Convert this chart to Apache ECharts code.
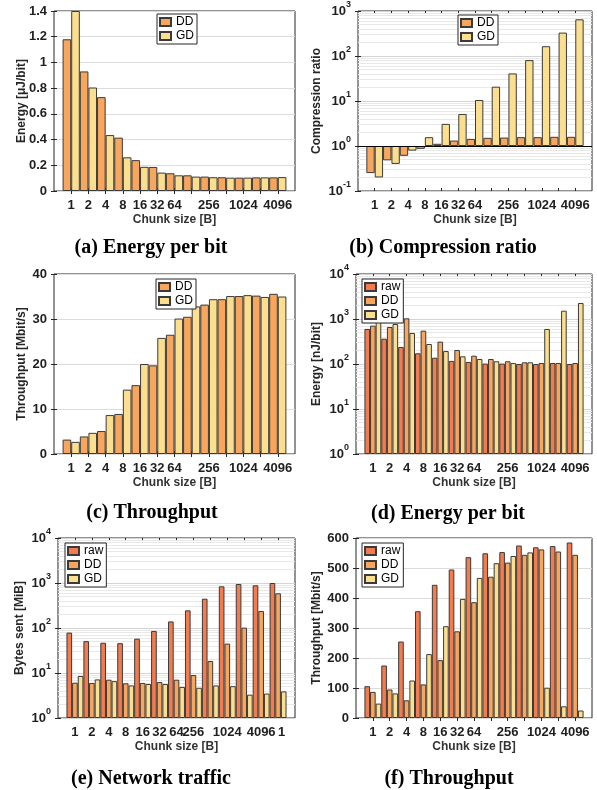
<!DOCTYPE html>
<html><head><meta charset="utf-8">
<script src="https://cdn.jsdelivr.net/npm/echarts@6/dist/echarts.min.js"></script>
<style>html,body{margin:0;padding:0;background:#fff}#c{width:597px;height:790px}</style>
</head><body><div id="c"></div>
<script>
// ---- categories / tick labels ----
const chunkSizes = ['1','2','4','8','16','32','64','128','256','512','1024','2048','4096'];
const tickLabels = ['1','2','4','8','16','32','64','','256','','1024','','4096'];
const tickLabelsTraffic = ['1','2','4','8','16','32','64','256','','1024','','4096','1'];

// ---- (a) Energy per bit [uJ/bit] ----
const energyDD = [1.18, 0.93, 0.73, 0.415, 0.24, 0.187, 0.138, 0.122, 0.112, 0.107, 0.104, 0.106, 0.106];
const energyGD = [1.40, 0.805, 0.435, 0.262, 0.188, 0.143, 0.122, 0.112, 0.107, 0.104, 0.104, 0.106, 0.108];

// ---- (b) Compression ratio ----
const ratioDD = [0.25, 0.48, 0.605, 0.865, 1.12, 1.32, 1.44, 1.52, 1.54, 1.57, 1.57, 1.6, 1.6];
const ratioGD = [0.2, 0.40, 0.79, 1.57, 3.1, 5.15, 10.5, 20.8, 41, 81, 165, 331, 653];

// ---- (c) Throughput [Mbit/s] ----
const thrDD = [3.2, 3.9, 5.1, 8.9, 15.3, 19.7, 26.5, 30.5, 33.2, 34.4, 35.1, 35.2, 35.6];
const thrGD = [2.7, 4.7, 8.65, 14.3, 20.0, 25.8, 30.1, 32.8, 34.4, 35.1, 35.3, 34.9, 35.0];

// ---- (d) Energy per bit [nJ/bit] ----
const enRaw = [600, 365, 239, 173, 138, 117, 111, 102, 102, 100, 100, 105, 100];
const enDD  = [711, 664, 1035, 550, 314, 205, 153, 129, 115, 109, 105, 105, 105];
const enGD  = [1050, 774, 489, 278, 194, 148, 129, 115, 105, 109, 600, 1530, 2270];

// ---- (e) Network traffic: Bytes sent [MiB] ----
const bytesRaw = [79, 51, 47, 46, 58, 86, 140, 247, 448, 843, 950, 888, 1000];
const bytesDD  = [6.1, 6.0, 7.1, 5.9, 6.0, 6.3, 7.1, 9.0, 18.5, 45, 102, 239, 590];
const bytesGD  = [8.6, 7.2, 6.6, 5.3, 5.7, 5.7, 4.9, 4.7, 5.3, 5.1, 3.3, 3.5, 3.9];

// ---- (f) Throughput [Mbit/s] ----
const tpRaw = [106, 175, 255, 356, 444, 495, 536, 549, 553, 575, 569, 573, 585];
const tpDD  = [87, 95, 59, 112, 193, 289, 386, 471, 518, 544, 562, 555, 544];
const tpGD  = [48, 82, 125, 213, 306, 397, 467, 516, 540, 552, 101, 39, 25];

// ---- styling ----
const FONT = '"Liberation Sans", Arial, sans-serif';
const C_RAW = '#F47B4D', C_DD = '#F8A65D', C_GD = '#FCDF8E';
const EDGE = '#3a3a3a';
const INK = '#1f1f1f';
const xPos = chunkSizes.map((_, i) => i + 1);

function minorValues(lo, hi) {
  const out = [];
  for (let e = Math.round(Math.log10(lo)); e < Math.round(Math.log10(hi)); e++) {
    for (let m = 2; m <= 9; m++) out.push(m * Math.pow(10, e));
  }
  return out;
}
function supLabel(v) {
  const e = Math.round(Math.log10(v));
  return '{b|10}{s|' + e + '}';
}

const panels = [
  { grid:[54,11,241,180], y:{type:'value',min:0,max:1.4,interval:0.2}, yName:'Energy [\u03bcJ/bit]', yGap:26,
    series:[['DD',energyDD,C_DD],['GD',energyGD,C_GD]], legend:[157,14], labels:tickLabels,
    caption:'(a) Energy per bit', cap:[151,248] },
  { grid:[358,11,234,180], y:{type:'log',logBase:10,min:0.1,max:1000}, yName:'Compression ratio', yGap:35,
    series:[['DD',ratioDD,C_DD],['GD',ratioGD,C_GD]], legend:[458,15], labels:tickLabels, baseline:true,
    caption:'(b) Compression ratio', cap:[443,248] },
  { grid:[54,274,241,180], y:{type:'value',min:0,max:40,interval:10}, yName:'Throughput [Mbit/s]', yGap:26,
    series:[['DD',thrDD,C_DD],['GD',thrGD,C_GD]], legend:[156,279], labels:tickLabels,
    caption:'(c) Throughput', cap:[152,513] },
  { grid:[356,274,236,180], y:{type:'log',logBase:10,min:1,max:10000}, yName:'Energy [nJ/bit]', yGap:33,
    series:[['raw',enRaw,C_RAW],['DD',enDD,C_DD],['GD',enGD,C_GD]], legend:[362,279], labels:tickLabels,
    caption:'(d) Energy per bit', cap:[448,514] },
  { grid:[58,538,237,180], y:{type:'log',logBase:10,min:1,max:10000}, yName:'Bytes sent [MiB]', yGap:32,
    series:[['raw',bytesRaw,C_RAW],['DD',bytesDD,C_DD],['GD',bytesGD,C_GD]], legend:[65,543], labels:tickLabelsTraffic,
    lastLeft:true, caption:'(e) Network traffic', cap:[151,779] },
  { grid:[356,538,236,180], y:{type:'value',min:0,max:600,interval:100}, yName:'Throughput [Mbit/s]', yGap:33,
    series:[['raw',tpRaw,C_RAW],['DD',tpDD,C_DD],['GD',tpGD,C_GD]], legend:[362,543], labels:tickLabels,
    caption:'(f) Throughput', cap:[449,779] }
];

const grid = [], xAxis = [], yAxis = [], series = [], legend = [], graphic = [];
const tickStyle = { show:true, inside:true, length:3, lineStyle:{ color:'#262626', width:1 } };
const labelText = { color:INK, fontSize:13, fontWeight:'bold', fontFamily:FONT };

panels.forEach((p, k) => {
  const isLog = p.y.type === 'log';
  grid.push({ left:p.grid[0], top:p.grid[1], width:p.grid[2], height:p.grid[3], show:true,
    borderColor:'#262626', borderWidth:1, backgroundColor:'#fff', containLabel:false, outerBoundsMode:'none' });

  const xLabel = Object.assign({}, labelText, { customValues:xPos, margin:8, hideOverlap:false,
      showMinLabel:true, showMaxLabel:true,
      formatter: v => p.labels[Math.round(v) - 1] || '' });
  if (p.lastLeft) xLabel.alignMaxLabel = 'left';
  xAxis.push({ gridIndex:k, type:'value', min:0, max:14, position:'bottom',
    axisLine:{show:false}, splitLine:{show:false},
    axisTick:Object.assign({}, tickStyle, {customValues:xPos}),
    axisLabel:xLabel,
    name:'Chunk size [B]', nameLocation:'middle', nameGap:23, nameMoveOverlap:false,
    nameTextStyle:{ color:'#333', fontSize:12, fontWeight:'bold', fontFamily:FONT } });
  xAxis.push({ gridIndex:k, type:'value', min:0, max:14, position:'top',
    axisLine:{show:false}, splitLine:{show:false},
    axisTick:Object.assign({}, tickStyle, {customValues:xPos}), axisLabel:{show:false} });

  const yLabel = isLog
    ? Object.assign({}, labelText, { margin:7, formatter:supLabel, padding:[0,0,4,0],
        showMinLabel:true, showMaxLabel:true,
        rich:{ b:{ fontSize:13, fontWeight:'bold', color:INK, fontFamily:FONT, lineHeight:17, verticalAlign:'bottom' },
               s:{ fontSize:9, fontWeight:'bold', color:INK, fontFamily:FONT, lineHeight:17, verticalAlign:'top' } } })
    : Object.assign({}, labelText, { margin:7, showMinLabel:true, showMaxLabel:true });
  yAxis.push(Object.assign({ gridIndex:k, position:'left' }, p.y, {
    axisLine:{show:false}, axisTick:tickStyle,
    splitLine:{ show:true, lineStyle:{ color: isLog ? '#d4d4d4' : '#dcdcdc', width:1 } },
    axisLabel:yLabel,
    name:p.yName, nameLocation:'middle', nameGap:p.yGap, nameMoveOverlap:false,
    nameTextStyle:{ color:'#262626', fontSize:12, fontWeight:'bold', fontFamily:FONT } }));
  yAxis.push(Object.assign({ gridIndex:k, position:'right' }, p.y, {
    axisLine:{show:false}, axisTick:tickStyle, splitLine:{show:false}, axisLabel:{show:false} }));

  p.series.forEach(([name, vals, color], j) => {
    const s = { type:'bar', name, xAxisIndex:2*k, yAxisIndex:2*k,
      data: xPos.map((x, i) => [x, vals[i]]),
      itemStyle:{ color, borderColor:EDGE, borderWidth:1 },
      barGap:'0%', barCategoryGap:'0%', z:3, animation:false, emphasis:{disabled:true} };
    if (isLog && j === 0) {
      s.markLine = { silent:true, symbol:['none','none'], z:1, animation:false, label:{show:false},
        lineStyle:{ color:'#e8e8e8', width:1, type:'solid' }, emphasis:{disabled:true},
        data: minorValues(p.y.min, p.y.max).map(v => ({ yAxis:v })) };
    }
    if (p.baseline && j === p.series.length - 1) {
      s.markLine = { silent:true, symbol:['none','none'], z:4, animation:false, label:{show:false},
        lineStyle:{ color:'#000', width:1.2, type:'solid' }, emphasis:{disabled:true},
        data:[{ yAxis:1 }] };
    }
    series.push(s);
  });

  legend.push({ left:p.legend[0], top:p.legend[1], orient:'vertical', data:p.series.map(s => s[0]),
    itemWidth:11, itemHeight:8, itemGap:0, icon:'rect', padding:[1,3,1,2],
    borderColor:'#262626', borderWidth:1, backgroundColor:'#fff', borderRadius:0, selectedMode:false,
    textStyle:{ fontSize:12, color:'#000', fontFamily:FONT, lineHeight:14 } });

  graphic.push({ type:'text', x:p.cap[0], y:p.cap[1], z:10,
    style:{ text:p.caption, fill:'#000', font:'bold 20px "Liberation Serif", "Times New Roman", serif',
      align:'center', verticalAlign:'middle' } });
});

const chart = echarts.init(document.getElementById('c'), null, { renderer:'canvas' });
chart.setOption({ animation:false, backgroundColor:'#fff', grid, xAxis, yAxis, series, legend, graphic, tooltip:{show:false} });
</script>
</body></html>
